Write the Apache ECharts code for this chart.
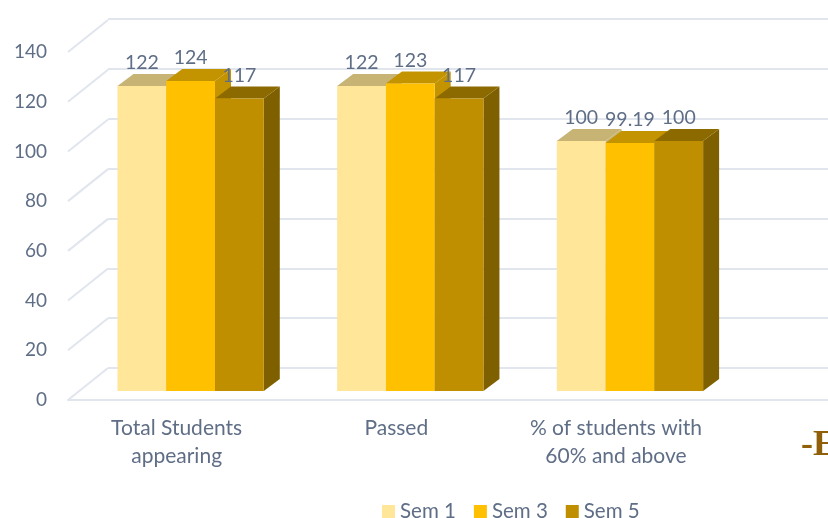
<!DOCTYPE html>
<html><head><meta charset="utf-8">
<style>html,body{margin:0;padding:0;background:#fff}#c{width:828px;height:518px}canvas{filter:blur(.6px)}</style>
<script src="https://cdn.jsdelivr.net/npm/echarts@6/dist/echarts.min.js"></script>
</head><body><div id="c"></div>
<script>
const categories = ['Total Students\nappearing', 'Passed', '% of students with\n60% and above'];
const sem1 = [122, 122, 100];
const sem3 = [124, 123, 99.19];
const sem5 = [117, 117, 100];
const ticks = [0, 20, 40, 60, 80, 100, 120, 140];
const names = ['Sem 1', 'Sem 3', 'Sem 5'];
const TXT = '#5F6E86', FONT = 'Lato', LINE = '#E1E5EE';
const DX = 16, DY = 12;
const styles = [
  {front:'#FFE699', top:'#C7B474', side:'#C7B474'},
  {front:'#FFC000', top:'#C49300', side:'#C49300'},
  {front:'#BF8F00', top:'#8C6A00', side:'#7F6000'}
];
function barSeries(name, values, k){
  return {
    name, type:'custom', xAxisIndex:1, yAxisIndex:1, z:5,
    itemStyle:{color:styles[k].front},
    data: values.map((v,i)=>[i,v]),
    renderItem(params, api){
      const i = api.value(0), v = api.value(1);
      const base = api.coord([i,0]), topP = api.coord([i,v]);
      const band = api.size([1,0])[0], w = band*0.222;
      const x0 = base[0] + (k-1.5)*w, x1 = x0+w, yb = base[1], yt = topP[1];
      const s = styles[k];
      const poly = (points, fill)=>({type:'polygon', shape:{points}, style:{fill}, silent:true});
      return {type:'group', children:[
        poly([[x1,yb],[x1+DX,yb-DY],[x1+DX,yt-DY],[x1,yt]], s.side),
        poly([[x0,yt],[x0+DX,yt-DY],[x1+DX,yt-DY],[x1,yt]], s.top),
        {type:'rect', shape:{x:x0,y:yt,width:w,height:yb-yt}, style:{fill:s.front}},
        {type:'text', x:(x0+x1)/2, y:yt-23, z2:50, style:{text:String(v), fill:TXT, font:'19.5px '+FONT, align:'center', verticalAlign:'middle'}}
      ]};
    }
  };
}
const chart = echarts.init(document.getElementById('c'), null, {renderer:'canvas'});
chart.setOption({
  animation:false, backgroundColor:'#fff',
  grid:[
    {left:68, right:0, top:52, height:348},
    {left:80.8, width:659, top:41, height:350},
    {left:108, right:0, top:19, height:349}
  ],
  xAxis:[
    {gridIndex:0, type:'value', min:0, max:1, axisLine:{show:true, onZero:false, lineStyle:{color:LINE,width:2}}, axisTick:{show:false}, axisLabel:{show:false}, splitLine:{show:false}},
    {gridIndex:1, type:'category', data:categories, axisLine:{show:false}, axisTick:{show:false},
      axisLabel:{interval:0, color:TXT, fontFamily:FONT, fontSize:21, lineHeight:28, margin:23, padding:[0,28,0,0]}},
    {gridIndex:2, type:'value', min:0, max:1, show:false}
  ],
  yAxis:[
    {gridIndex:0, type:'value', min:0, max:140, interval:20, axisLine:{show:false}, axisTick:{show:false}, splitLine:{show:false},
      axisLabel:{color:TXT, fontFamily:FONT, fontSize:19, margin:21}},
    {gridIndex:1, type:'value', min:0, max:140, interval:20, show:false},
    {gridIndex:2, type:'value', min:0, max:140, interval:20, axisLine:{show:false}, axisTick:{show:false}, axisLabel:{show:false},
      splitLine:{show:true, lineStyle:{color:LINE,width:2}}}
  ],
  legend:{data:names, left:382, top:501, padding:0, itemWidth:13, itemHeight:13, itemGap:18, icon:'rect',
    textStyle:{color:TXT, fontFamily:FONT, fontSize:20.5}},
  series:[
    {type:'custom', name:'walls', xAxisIndex:0, yAxisIndex:0, z:1, silent:true, data:ticks.map(t=>[0,t]),
      renderItem(params, api){
        const p = api.coord([0,api.value(1)]);
        return {type:'line', shape:{x1:p[0],y1:p[1],x2:p[0]+40,y2:p[1]-32}, style:{stroke:LINE,lineWidth:2}};
      }},
    barSeries(names[0], sem1, 0),
    barSeries(names[1], sem3, 1),
    barSeries(names[2], sem5, 2)
  ],
  graphic:[{type:'text', left:801, top:428, style:{text:'-E', fill:'#8F5F0A', font:'bold 36px "Liberation Serif"'}}]
});
</script></body></html>
